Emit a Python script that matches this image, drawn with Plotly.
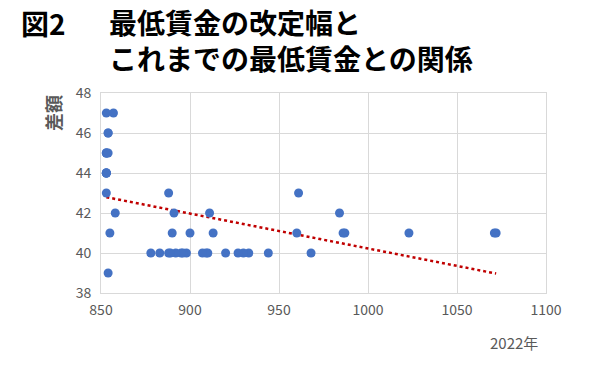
import numpy as np
import plotly.graph_objects as go

# 2022 minimum wage (x) vs revision amount (y)
min_wage = [853, 857, 854, 854, 853, 853, 853, 854, 853, 853, 853, 853,
            853, 858, 855, 854,
            1072, 1071, 1023, 987, 986, 984, 968, 960, 961, 944, 933, 930,
            927, 920, 913, 911, 910, 909, 907, 900, 898, 896, 895, 892,
            891, 890, 889, 888, 888, 883, 878]
diff = [47, 47, 46, 46, 45, 45, 45, 45, 44, 44, 44, 44,
        43, 42, 41, 39,
        41, 41, 41, 41, 41, 42, 40, 41, 43, 40, 40, 40,
        40, 40, 41, 42, 40, 40, 40, 41, 40, 40, 40, 40,
        42, 41, 40, 43, 40, 40, 40]

x_ticks = [850, 900, 950, 1000, 1050, 1100]
y_ticks = [38, 40, 42, 44, 46, 48]

title_num = "図2"
title_line1 = "最低賃金の改定幅と"
title_line2 = "これまでの最低賃金との関係"
y_title = "差額"
x_title = "2022年"

xa = np.array(min_wage, dtype=float)
ya = np.array(diff, dtype=float)
slope, intercept = np.polyfit(xa, ya, 1)
tx = np.array([xa.min(), xa.max()])
ty = slope * tx + intercept

FONT = "Noto Sans CJK JP"
GRAY = "#595959"

fig = go.Figure()
fig.add_trace(go.Scatter(x=tx, y=ty, mode="lines",
                         line=dict(color="#C00000", width=2.5, dash="dot"),
                         hoverinfo="skip", showlegend=False))
fig.add_trace(go.Scatter(x=min_wage, y=diff, mode="markers",
                         marker=dict(color="#4472C4", size=9),
                         showlegend=False))

fig.update_layout(
    width=600, height=365,
    margin=dict(l=101, r=54, t=93, b=72),
    paper_bgcolor="white", plot_bgcolor="white",
    font=dict(family=FONT, color=GRAY, size=14),
    xaxis=dict(range=[850, 1100], tickvals=x_ticks, showgrid=True,
               gridcolor="#d9d9d9", gridwidth=1, zeroline=False,
               showline=True, linecolor="#d9d9d9", mirror=True,
               ticks="", ticklabelstandoff=4,
               tickfont=dict(size=14, color=GRAY)),
    yaxis=dict(range=[38, 48], tickvals=y_ticks, showgrid=True,
               gridcolor="#d9d9d9", gridwidth=1, zeroline=False,
               showline=True, linecolor="#d9d9d9", mirror=True,
               ticks="", ticklabelstandoff=6,
               tickfont=dict(size=14, color=GRAY)),
)

fig.add_annotation(text="<b>" + title_num + "</b>", xref="paper", yref="paper",
                   x=-0.184, y=1.35, xanchor="left", yanchor="middle",
                   showarrow=False, font=dict(family=FONT, size=28, color="black"))
fig.add_annotation(text="<b>" + title_line1 + "</b><br><b>" + title_line2 + "</b>",
                   xref="paper", yref="paper",
                   x=0.013, y=1.265, xanchor="left", yanchor="middle",
                   align="left", showarrow=False,
                   font=dict(family=FONT, size=28, color="black"))
fig.add_annotation(text="<b>" + y_title + "</b>", xref="paper", yref="paper",
                   x=-0.108, y=0.9, xanchor="center", yanchor="middle",
                   textangle=-90, showarrow=False,
                   font=dict(family=FONT, size=18, color=GRAY))
fig.add_annotation(text=x_title, xref="paper", yref="paper",
                   x=(540 - 101) / 445, y=(293 - 342) / 200,
                   xanchor="right", yanchor="middle", showarrow=False,
                   font=dict(family=FONT, size=15, color=GRAY))

fig.write_html("out.html", config={"displayModeBar": False},
               post_script="document.body.style.margin='0';")
